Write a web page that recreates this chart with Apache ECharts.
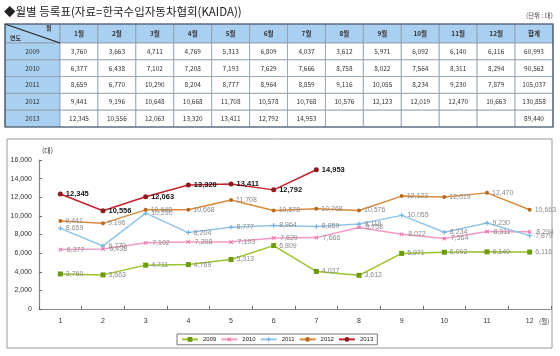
<!DOCTYPE html>
<html><head><meta charset="utf-8">
<script src="https://cdn.jsdelivr.net/npm/echarts@6/dist/echarts.min.js"></script>
<style>html,body{margin:0;padding:0;background:#fff}#c{width:560px;height:356px}</style>
</head><body><div id="c"></div>
<script>
const months = ['1','2','3','4','5','6','7','8','9','10','11','12'];
const years = ['2009','2010','2011','2012','2013'];
const headerCols = ['1월','2월','3월','4월','5월','6월','7월','8월','9월','10월','11월','12월','합계'];
const v2009 = [3760,3663,4711,4769,5313,6809,4037,3612,5971,6092,6140,6116];
const v2010 = [6377,6438,7102,7208,7193,7629,7666,8758,8022,7564,8311,8294];
const v2011 = [8659,6770,10290,8204,8777,8964,8859,9116,10055,8234,9230,7879];
const v2012 = [9441,9196,10648,10668,11708,10578,10768,10576,12123,12019,12470,10663];
const v2013 = [12345,10556,12063,13320,13411,12792,14953];
const totals = [60993,90562,105037,130858,89440];
const yTicks = [0,2000,4000,6000,8000,10000,12000,14000,16000];

const seriesVals = [v2009,v2010,v2011,v2012,v2013];
const colors = ['#9cc22e','#f29ac4','#92c5e8','#d98a3c','#c4232c'];
const markColors = ['#6e9a10','#e873ad','#6aaedc','#b8691f','#8e1a1e'];
const symbols = ['rect','path://M4,0H6V4H10V6H6V10H4V6H0V4H4Z','path://M4,0H6V4H10V6H6V10H4V6H0V4H4Z','circle','circle'];
const symRot = [0,45,0,0,0];
const fmt = v => Number(v).toLocaleString('en-US');
const FONT = '"Noto Sans CJK KR","Liberation Sans",sans-serif';
const BLUE = '#a9cff1';

// table data
const hdrData = headerCols.map((h,i)=>[i,0]);
const yrData = years.map((y,i)=>[0,i]);
const cellData = [], cellLabels = [];
years.forEach((y,r)=>{
  for(let c=0;c<13;c++){
    const v = c<12 ? seriesVals[r][c] : totals[r];
    cellData.push([c,r]);
    cellLabels.push(v===undefined ? '' : fmt(v));
  }
});
function cellRender(labels, fill, bold){
  return function(params, api){
    const c = api.coord([api.value(0), api.value(1)]);
    const s = api.size([1,1]);
    return {type:'group', children:[
      {type:'rect', shape:{x:c[0]-s[0]/2, y:c[1]-s[1]/2, width:s[0], height:s[1]},
       style:{fill:fill, stroke:'#8c9aab', lineWidth:0.8}},
      {type:'text', style:{text:labels[params.dataIndex], x:c[0], y:c[1], align:'center', verticalAlign:'middle',
        font:(bold?'bold ':'')+'6.5px '+FONT, fill:'#333'}}
    ]};
  };
}

const chart = echarts.init(document.getElementById('c'), null, {renderer:'canvas'});
const lineSeries = years.map((y,i)=>({
  name:y, type:'line', xAxisIndex:0, yAxisIndex:0, data:seriesVals[i],
  symbol:symbols[i], symbolRotate:symRot[i], symbolSize: i===3?4:5,
  lineStyle:{color:colors[i], width:1.5},
  itemStyle:{color:markColors[i]},
  label:{show:true, position:'right', distance:3, formatter:p=>fmt(p.value),
    fontSize: i===4?7.5:7, fontWeight: i===4?'bold':'normal', color: i===4?'#111':'#8a8a8a',
    fontFamily:'"Liberation Sans",sans-serif'},
  z: 2+i, animation:false
}));

chart.setOption({
  animation:false,
  grid:[
    {left:39, right:9, top:160, bottom:47},
    {left:60, width:493, top:24, height:19},
    {left:5, width:55, top:43, height:84},
    {left:60, width:493, top:43, height:84}
  ],
  xAxis:[
    {type:'category', gridIndex:0, data:months, boundaryGap:true,
     axisLine:{lineStyle:{color:'#8a8a8a', width:1.2}},
     axisTick:{show:true, inside:true, length:3, lineStyle:{color:'#666'}},
     axisLabel:{fontSize:7, color:'#333', margin:9, fontFamily:'"Liberation Sans",sans-serif'}},
    {type:'category', gridIndex:1, data:headerCols, show:false},
    {type:'category', gridIndex:2, data:['연도'], show:false},
    {type:'category', gridIndex:3, data:headerCols, show:false}
  ],
  yAxis:[
    {type:'value', gridIndex:0, min:0, max:16000, interval:2000,
     splitLine:{show:false},
     axisLine:{show:true, lineStyle:{color:'#8a8a8a', width:1.2}},
     axisTick:{show:true, inside:true, length:3, lineStyle:{color:'#666'}},
     axisLabel:{fontSize:7, color:'#333', margin:7, formatter:v=>fmt(v), fontFamily:'"Liberation Sans",sans-serif'},
     name:'(대)', nameLocation:'end', nameGap:6,
     nameTextStyle:{fontSize:7, color:'#333', align:'left', padding:[0,0,0,3], fontFamily:FONT}},
    {type:'category', gridIndex:1, data:['h'], show:false},
    {type:'category', gridIndex:2, data:years, inverse:true, show:false},
    {type:'category', gridIndex:3, data:years, inverse:true, show:false}
  ],
  legend:{
    data:years, left:177, top:334, orient:'horizontal',
    padding:[2,4,2,4], itemWidth:16, itemHeight:6, itemGap:4,
    borderColor:'#555', borderWidth:0.8,
    textStyle:{fontSize:6, color:'#222', fontFamily:'"Liberation Sans",sans-serif'}
  },
  series:[
    ...lineSeries,
    {type:'custom', xAxisIndex:1, yAxisIndex:1, data:hdrData, renderItem:cellRender(headerCols, BLUE, true), silent:true},
    {type:'custom', xAxisIndex:2, yAxisIndex:2, data:yrData, renderItem:cellRender(years, BLUE, false), silent:true},
    {type:'custom', xAxisIndex:3, yAxisIndex:3, data:cellData, renderItem:cellRender(cellLabels, '#ffffff', false), silent:true}
  ],
  graphic:[
    {type:'text', left:4, top:6, style:{text:'◆월별 등록표(자료=한국수입자동차협회(KAIDA))', font:'11.5px '+FONT, fill:'#222'}},
    {type:'text', right:7, top:12, style:{text:'(단위 : 대)', font:'6.5px '+FONT, fill:'#444'}},
    {type:'rect', shape:{x:5, y:24, width:55, height:19}, style:{fill:BLUE, stroke:'#8c9aab', lineWidth:0.8}},
    {type:'line', shape:{x1:5, y1:24, x2:60, y2:43}, style:{stroke:'#222', lineWidth:1.2}, z:10},
    {type:'text', x:46, y:25, style:{text:'월', font:'bold 6px '+FONT, fill:'#333'}, z:10},
    {type:'text', x:10, y:35, style:{text:'연도', font:'bold 6px '+FONT, fill:'#333'}, z:10},
    {type:'rect', shape:{x:5, y:24, width:548, height:103}, style:{fill:'none', stroke:'#3d4f66', lineWidth:1.2}, z:10},
    {type:'rect', shape:{x:7, y:139, width:545, height:209}, style:{fill:'none', stroke:'#9a9a9a', lineWidth:1}, z:0},
    {type:'text', x:539, y:318, style:{text:'(월)', font:'6.5px '+FONT, fill:'#333'}}
  ]
});
</script></body></html>
